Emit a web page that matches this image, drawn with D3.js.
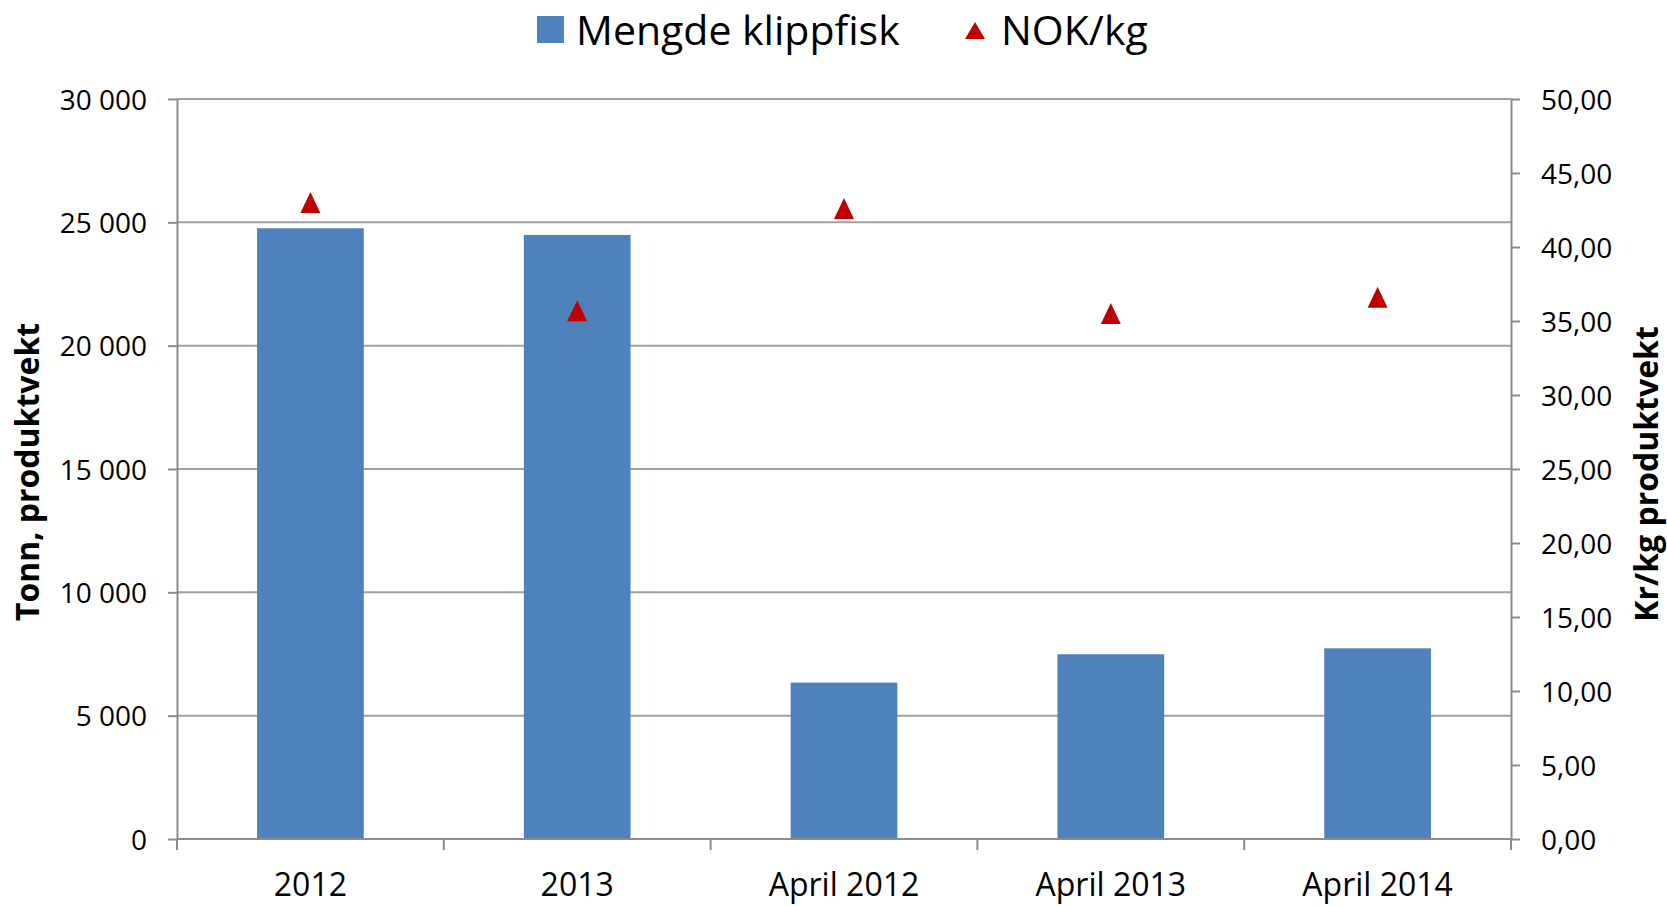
<!DOCTYPE html>
<html>
<head>
<meta charset="utf-8">
<script src="https://cdn.jsdelivr.net/npm/d3@7"></script>
<style>
  html, body { margin: 0; padding: 0; background: #fff; }
  svg text { font-family: "Open Sans", "Noto Sans", sans-serif; fill: #000; }
</style>
</head>
<body>
<svg id="chart" width="1667" height="906"></svg>
<script>
// data
var categories = ["2012", "2013", "April 2012", "April 2013", "April 2014"];
var tonn = [24760, 24490, 6340, 7490, 7730];      // Mengde klippfisk
var nokPerKg = [43.0, 35.7, 42.6, 35.5, 36.6];    // NOK/kg
var leftTicks = [0, 5000, 10000, 15000, 20000, 25000, 30000];
var rightTicks = [0, 5, 10, 15, 20, 25, 30, 35, 40, 45, 50];

// layout
var plot_left = 177;
var plot_right = 1511;
var plot_top = 99;
var plot_bottom = 839;
var tick_len = 9;
var axis_color = "#8c8c8c";
var grid_color = "#a0a0a0";
var bar_color = "#4f81bd";
var mark_color = "#c00000";

var no = d3.formatLocale({ decimal: ",", thousands: " ", grouping: [3], currency: ["", " kr"] });
var fmtLeft = no.format(",d");
var fmtRight = no.format(".2f");

var svg = d3.select("#chart");

var x = d3.scaleBand().domain(categories).range([plot_left, plot_right]).paddingInner(0.6).paddingOuter(0.3);
var yL = d3.scaleLinear().domain([0, 30000]).range([plot_bottom, plot_top]);
var yR = d3.scaleLinear().domain([0, 50]).range([plot_bottom, plot_top]);

//gridlines
svg.append("g").selectAll("line").data(leftTicks.filter(d => d > 0)).enter().append("line")
    .attr("x1", plot_left).attr("x2", plot_right)
    .attr("y1", d => yL(d)).attr("y2", d => yL(d))
    .style("stroke", grid_color).style("stroke-width", "2px");

// bars
svg.append("g").selectAll("rect").data(tonn).enter().append("rect")
    .attr("x", (d, i) => x(categories[i]))
    .attr("width", x.bandwidth())
    .attr("y", d => yL(d))
    .attr("height", d => yL(0) - yL(d))
    .style("fill", bar_color);

// left axis
var axL = svg.append("g").attr("transform", `translate(${plot_left},0)`)
    .call(d3.axisLeft(yL).tickValues(leftTicks).tickFormat(fmtLeft).tickSize(tick_len).tickSizeOuter(0).tickPadding(21));
// right axis
var axR = svg.append("g").attr("transform", `translate(${plot_right},0)`)
    .call(d3.axisRight(yR).tickValues(rightTicks).tickFormat(fmtRight).tickSize(tick_len).tickSizeOuter(0).tickPadding(21));
// bottom axis - ticks on category boundaries
var edges = d3.range(categories.length + 1).map(i => plot_left + i * x.step());
var axB = svg.append("g").attr("transform", `translate(0,${plot_bottom})`);
axB.append("line").attr("x1", plot_left).attr("x2", plot_right).attr("y1", 0).attr("y2", 0);
axB.selectAll(".edge").data(edges).enter().append("line").classed("edge", true)
    .attr("x1", d => d).attr("x2", d => d).attr("y1", 0).attr("y2", tick_len + 2);
axB.selectAll("text").data(categories).enter().append("text")
    .attr("x", d => x(d) + x.bandwidth() / 2).attr("y", 57)
    .attr("text-anchor", "middle").style("font-size", "32px").text(d => d);

[axL, axR].forEach(a => {
    a.select(".domain").style("stroke", axis_color).style("stroke-width", "2px");
    a.selectAll(".tick line").style("stroke", axis_color).style("stroke-width", "2px");
    a.selectAll(".tick text").style("font-size", "28px").attr("dy", "0.36em");
});
axB.selectAll("line").style("stroke", axis_color).style("stroke-width", "2px");

// NOK/kg markers
function triPath(cx, cy) {
    return `M${cx},${cy - 10.5} L${cx + 10},${cy + 10.5} L${cx - 10},${cy + 10.5} Z`;
}
svg.append("g").selectAll("path").data(nokPerKg).enter().append("path")
    .attr("d", (d, i) => triPath(x(categories[i]) + x.bandwidth() / 2, yR(d)))
    .style("fill", mark_color);

// axis titles
svg.append("text").attr("transform", `translate(39,472) rotate(-90)`)
    .attr("text-anchor", "middle").style("font-size", "32px").style("font-weight", "bold")
    .text("Tonn, produktvekt");
svg.append("text").attr("transform", `translate(1658,474) rotate(-90)`)
    .attr("text-anchor", "middle").style("font-size", "32px").style("font-weight", "bold")
    .text("Kr/kg produktvekt");

// legend
var lg = svg.append("g");
lg.append("rect").attr("x", 537).attr("y", 16).attr("width", 27).attr("height", 27).style("fill", bar_color);
lg.append("text").attr("x", 576).attr("y", 45).style("font-size", "41px").text("Mengde klippfisk");
lg.append("path").attr("d", "M975,22 L985,39 L965,39 Z").style("fill", mark_color);
lg.append("text").attr("x", 1001).attr("y", 45).style("font-size", "41px").text("NOK/kg");
</script>
</body>
</html>
